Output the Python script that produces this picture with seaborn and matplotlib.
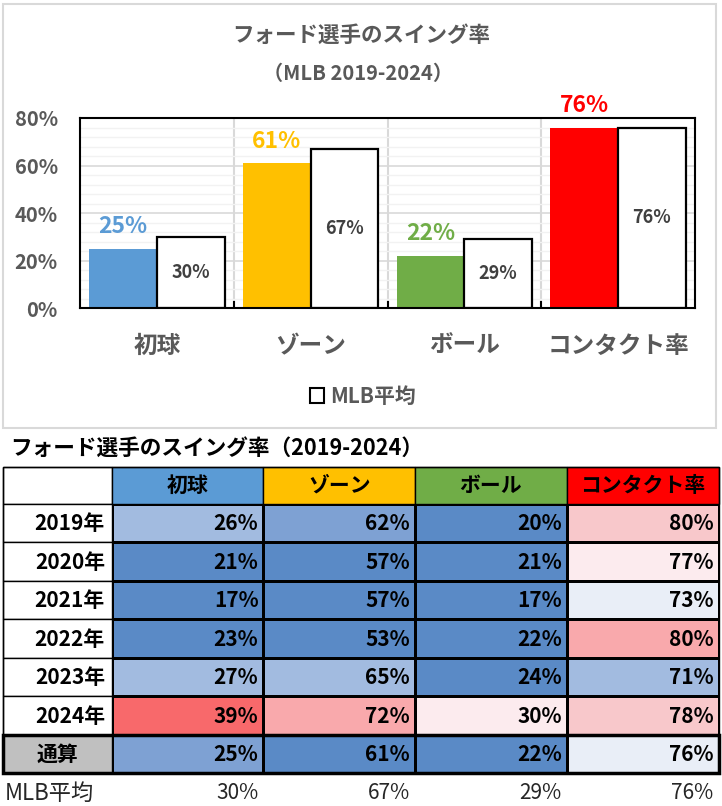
import matplotlib
matplotlib.use('Agg')
import matplotlib.pyplot as plt
import seaborn as sns
import numpy as np
import pandas as pd
from matplotlib.patches import Rectangle
from matplotlib.colors import ListedColormap
from matplotlib.ticker import MultipleLocator, FixedLocator, PercentFormatter

# ---------------- data ----------------
categories = ['初球', 'ゾーン', 'ボール', 'コンタクト率']
player_rates = [0.25, 0.61, 0.22, 0.76]
mlb_rates = [0.30, 0.67, 0.29, 0.76]
series_names = ['フォード', 'MLB平均']

row_labels = ['2019年', '2020年', '2021年', '2022年', '2023年', '2024年', '通算']
first_pitch = [26, 21, 17, 23, 27, 39, 25]
zone_swing = [62, 57, 57, 53, 65, 72, 61]
ball_swing = [20, 21, 17, 22, 24, 30, 22]
contact_rate = [80, 77, 73, 80, 71, 78, 76]
mlb_avg_labels = ['30%', '67%', '29%', '76%']

# conditional-format shade level per cell (0 = well below MLB ... 7 = well above)
shade_levels = [[2, 1, 0, 5],
                [0, 0, 0, 4],
                [0, 0, 0, 3],
                [0, 0, 0, 6],
                [2, 2, 0, 2],
                [7, 6, 4, 5],
                [1, 0, 0, 3]]

# ---------------- styles ----------------
shade_colors = ['#5A8AC6', '#7EA1D3', '#A2BBE0', '#E9EEF7',
                '#FCEBEE', '#F8C8CB', '#F9A9AC', '#F8696B']
cat_colors = ['#5B9BD5', '#FFC000', '#70AD47', '#FF0000']

sns.set_theme(style='white')
plt.rcParams['font.family'] = ['Noto Sans CJK JP', 'DejaVu Sans']

W, H = 722, 806
fig = plt.figure(figsize=(W / 100, H / 100), dpi=100)


def fx(px):
    return px / W


def fy(py):
    return 1 - py / H


# chart outer border
fig.patches.append(Rectangle((fx(3.5), fy(428)), fx(716) - fx(3.5), fy(3.5) - fy(428),
                             transform=fig.transFigure, fill=False,
                             edgecolor='#D9D9D9', lw=1.5))

# ---------------- bar chart ----------------
ax = fig.add_axes([fx(80), fy(308), fx(695) - fx(80), fy(118) - fy(308)])
df = pd.DataFrame({
    'cat': categories * 2,
    'series': [series_names[0]] * len(categories) + [series_names[1]] * len(categories),
    'rate': player_rates + mlb_rates,
})
sns.barplot(data=df, x='cat', y='rate', hue='series', hue_order=series_names,
            order=categories, palette=['white', 'white'], width=0.88,
            ax=ax, legend=False, saturation=1)

ax.set_xlim(-0.5, 3.5)
ax.set_ylim(0, 0.8)

bars = [p for p in ax.patches if isinstance(p, Rectangle) and p.get_height() > 0]
for p in bars:
    cx = p.get_x() + p.get_width() / 2
    i = int(round(cx))
    h = p.get_height()
    if cx < i:  # player bar
        p.set_facecolor(cat_colors[i])
        p.set_edgecolor('none')
        ax.annotate(f'{h:.0%}', (cx, h), xytext=(0, 11), textcoords='offset points',
                    ha='center', va='baseline', color=cat_colors[i],
                    fontsize=16.5, fontweight='bold')
    else:  # MLB bar
        p.set_facecolor('white')
        p.set_edgecolor('black')
        p.set_linewidth(1.6)
        ax.text(cx, h / 2, f'{h:.0%}', ha='center', va='center',
                color='#404040', fontsize=13, fontweight='bold')

ax.set_xlabel('')
ax.set_ylabel('')
ax.set_yticks(np.arange(0, 0.81, 0.2))
ax.yaxis.set_major_formatter(PercentFormatter(1.0, decimals=0))
ax.yaxis.set_minor_locator(MultipleLocator(0.04))
ax.xaxis.set_minor_locator(FixedLocator([0.5, 1.5, 2.5]))

ax.grid(False)
ax.grid(True, which='major', axis='y', color='#D9D9D9', lw=1.2)
ax.grid(True, which='minor', axis='y', color='#F2F2F2', lw=1)
ax.grid(True, which='minor', axis='x', color='#D9D9D9', lw=1.5)
ax.set_axisbelow(True)

ax.tick_params(axis='y', which='major', length=0, pad=16, labelsize=14.5, labelcolor='#595959')
ax.tick_params(axis='y', which='minor', length=0)
ax.tick_params(axis='x', which='major', length=0, pad=19, labelsize=17, labelcolor='#595959')
ax.tick_params(axis='x', which='minor', bottom=True, direction='in', length=5,
               width=1.5, color='black')
for lbl in ax.get_yticklabels() + ax.get_xticklabels():
    lbl.set_fontweight('bold')

for s in ax.spines.values():
    s.set_visible(True)
    s.set_color('black')
    s.set_linewidth(1.5)

fig.text(fx(361), fy(35), 'フォード選手のスイング率', ha='center', va='center',
         fontsize=15.5, fontweight='bold', color='#595959')
fig.text(fx(358), fy(73), '（MLB 2019-2024）', ha='center', va='center',
         fontsize=14.5, fontweight='bold', color='#595959')

leg = fig.legend(handles=[Rectangle((0, 0), 1, 1, facecolor='white', edgecolor='black', lw=1.5)],
                 labels=[series_names[1]], loc='center',
                 bbox_to_anchor=(fx(363), fy(396)), frameon=False,
                 prop={'weight': 'bold', 'size': 15}, handlelength=0.7,
                 handleheight=0.7, handletextpad=0.3)
for t in leg.get_texts():
    t.set_color('#595959')

# ---------------- table ----------------
fig.text(fx(10), fy(448), 'フォード選手のスイング率（2019-2024）', ha='left', va='center',
         fontsize=15.6, fontweight='bold', color='black')

tax = fig.add_axes([fx(111.7), fy(773), fx(718.5) - fx(111.7), fy(504) - fy(773)])
vals = np.array([first_pitch, zone_swing, ball_swing, contact_rate]).T
sns.heatmap(np.array(shade_levels), ax=tax, cmap=ListedColormap(shade_colors),
            vmin=-0.5, vmax=7.5, cbar=False, linewidths=1, linecolor='black',
            xticklabels=False, yticklabels=False, annot=False)

nrows, ncols = vals.shape
hh = (504 - 466.7) / ((773 - 504) / nrows)
lw_col = (111.7 - 3.3) / ((718.5 - 111.7) / ncols)

for i in range(nrows):
    for j in range(ncols):
        tax.text(j + 0.967, i + 0.52, f'{vals[i, j]}%', ha='right', va='center',
                 fontsize=15, fontweight='bold', color='black')

# header row
tax.add_patch(Rectangle((-lw_col, -hh), lw_col, hh, facecolor='white', edgecolor='black',
                        lw=1, clip_on=False))
for j, c in enumerate(categories):
    tax.add_patch(Rectangle((j, -hh), 1, hh, facecolor=cat_colors[j], edgecolor='black',
                            lw=1, clip_on=False))
    tax.text(j + 0.5, -hh / 2, c, ha='center', va='center', fontsize=15,
             fontweight='bold', color='black')

# label column
for i, lab in enumerate(row_labels):
    last = i == nrows - 1
    tax.add_patch(Rectangle((-lw_col, i), lw_col, 1,
                            facecolor='#C0C0C0' if last else 'white',
                            edgecolor='black', lw=1, clip_on=False))
    if last:
        tax.text(-lw_col / 2, i + 0.52, lab, ha='center', va='center', fontsize=15,
                 fontweight='bold', color='black')
    else:
        tax.text(-0.044, i + 0.52, lab, ha='right', va='center', fontsize=15,
                 fontweight='bold', color='black')

# outer border and total-row emphasis
tax.add_patch(Rectangle((-lw_col, -hh), ncols + lw_col, nrows + hh, fill=False,
                        edgecolor='black', lw=1, clip_on=False))
tax.add_patch(Rectangle((-lw_col, nrows - 1), ncols + lw_col, 1, fill=False,
                        edgecolor='black', lw=2.5, clip_on=False))

# footer
tax.text(-0.703, nrows + 0.53, 'MLB平均', ha='left', va='center', fontsize=16,
         color='#262626')
for j, lab in enumerate(mlb_avg_labels):
    tax.text(j + 0.967, nrows + 0.53, lab, ha='right', va='center', fontsize=15,
             color='#262626')

fig.savefig('out.png', dpi=100)
